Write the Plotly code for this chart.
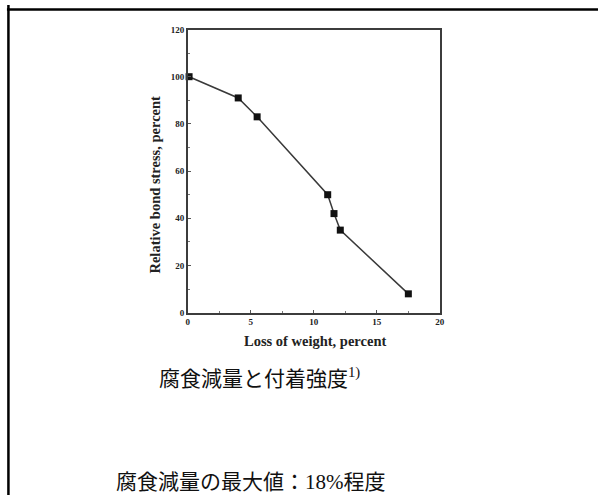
import plotly.graph_objects as go

# Data
loss_of_weight = [0.1, 4.0, 5.5, 11.1, 11.6, 12.1, 17.5]
relative_bond_stress = [100, 91, 83, 50, 42, 35, 8]

x_ticks = [0, 5, 10, 15, 20]
y_ticks = [0, 20, 40, 60, 80, 100, 120]

x_title = "Loss of weight, percent"
y_title = "Relative bond stress, percent"
caption1 = "腐食減量と付着強度<sup>1)</sup>"
caption2 = "腐食減量の最大値：18%程度"

W, H = 603, 500
px = lambda v: v / W
py = lambda v: 1 - v / H

serif = "Liberation Serif, Times New Roman, serif"
cjk = "Liberation Serif, Noto Sans CJK JP, serif"

fig = go.Figure()
fig.add_trace(go.Scatter(
    x=loss_of_weight, y=relative_bond_stress,
    mode="lines+markers",
    line=dict(color="#3a3a3a", width=1.5),
    marker=dict(symbol="square", size=7, color="#111111"),
    showlegend=False, cliponaxis=False,
))

axis_common = dict(
    showgrid=False, zeroline=False,
    showline=True, mirror=True, linecolor="#3c3c3c", linewidth=1.6,
    ticks="inside", ticklen=3, tickwidth=1, tickcolor="#555",
    tickfont=dict(family=serif, size=9, color="#222", weight="bold"),
)

fig.update_layout(
    width=W, height=H,
    margin=dict(l=0, r=0, t=0, b=0),
    paper_bgcolor="white", plot_bgcolor="white",
    xaxis=dict(
        domain=[px(188), px(443)],
        range=[0, 20], tickvals=x_ticks,
        minor=dict(dtick=2.5, ticks="inside", ticklen=2, tickcolor="#777"),
        anchor="y",
        **axis_common,
    ),
    yaxis=dict(
        domain=[py(314), py(25)],
        range=[0, 120], tickvals=y_ticks,
        minor=dict(dtick=10, ticks="inside", ticklen=2, tickcolor="#777"),
        anchor="x",
        **axis_common,
    ),
    annotations=[
        dict(text=f"<b>{x_title}</b>", x=px(317), y=py(343), xref="paper", yref="paper",
             xanchor="center", yanchor="middle",
             showarrow=False, font=dict(family=serif, size=14.5, color="#222")),
        dict(text=f"<b>{y_title}</b>", x=px(155), y=py(183), xref="paper", yref="paper",
             xanchor="center", yanchor="middle",
             showarrow=False, textangle=-90, font=dict(family=serif, size=14.5, color="#222")),
        dict(text=caption1, x=px(261), y=py(380), xref="paper", yref="paper",
             xanchor="center", yanchor="middle",
             showarrow=False, font=dict(family=cjk, size=21, color="#111")),
        dict(text=caption2, x=px(252), y=py(487), xref="paper", yref="paper",
             xanchor="center", yanchor="middle",
             showarrow=False, font=dict(family=cjk, size=21, color="#111")),
    ],
    shapes=[
        dict(type="line", xref="paper", yref="paper", x0=px(5), x1=1, y0=py(4.5), y1=py(4.5),
             line=dict(color="black", width=2.5)),
        dict(type="line", xref="paper", yref="paper", x0=px(6.5), x1=px(6.5), y0=0, y1=1,
             line=dict(color="black", width=2.5)),
    ],
)

fig.write_html("out.html")
